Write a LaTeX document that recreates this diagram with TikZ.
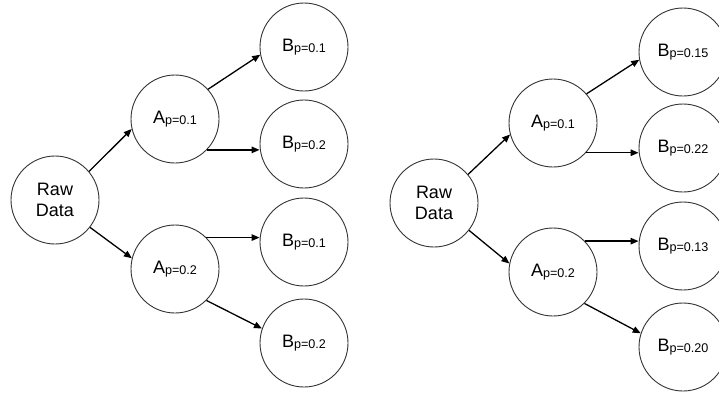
\documentclass[tikz,border=0pt]{standalone}
\usepackage{fontspec}
\setmainfont{Liberation Sans}
\usetikzlibrary{arrows.meta}
\newcommand{\lbl}[2]{#1\raisebox{-1.5pt}{\fontsize{12.6}{14}\selectfont #2}}
\begin{document}
\begin{tikzpicture}[x=1pt,y=-1pt,
  stage/.style={circle,draw=black!80,line width=0.9pt,minimum size=88pt,inner sep=0pt,
    font=\fontsize{18}{21.6}\selectfont,align=center},
  flow/.style={line width=1.3pt,-{Triangle[length=8pt,width=6.5pt]}}]
\useasboundingbox (0,0) rectangle (719,394);
% left tree
\node[stage] (raw) at (55,200) {Raw\\Data};
\node[stage] (a1) at (175,119) {\lbl{A}{p=0.1}};
\node[stage] (a2) at (175,269) {\lbl{A}{p=0.2}};
\node[stage] (b1) at (304,47) {\lbl{B}{p=0.1}};
\node[stage] (b2) at (304,144) {\lbl{B}{p=0.2}};
\node[stage] (b3) at (304,242) {\lbl{B}{p=0.1}};
\node[stage] (b4) at (304,343) {\lbl{B}{p=0.2}};
\draw[flow] (raw.40.5) -- (a1.193.7);
\draw[flow] (raw.-38.5) -- (a2.166.5);
\draw[flow] (a1.42) -- (b1.190);
\draw[flow] (a1.-44) -- (a1.-44 -| b2.west);
\draw[flow] (a2.45) -- (a2.45 -| b3.west);
\draw[flow] (a2.-45) -- (b4.161);
% right tree
\node[stage] (rraw) at (434,203) {Raw\\Data};
\node[stage] (ra1) at (553,123) {\lbl{A}{p=0.1}};
\node[stage] (ra2) at (553,272) {\lbl{A}{p=0.2}};
\node[stage] (rb1) at (683,52) {\lbl{B}{p=0.15}};
\node[stage] (rb2) at (683,148) {\lbl{B}{p=0.22}};
\node[stage] (rb3) at (683,246) {\lbl{B}{p=0.13}};
\node[stage] (rb4) at (683,347) {\lbl{B}{p=0.20}};
\draw[flow] (rraw.40.5) -- (ra1.195);
\draw[flow] (rraw.-38.5) -- (ra2.169);
\draw[flow] (ra1.41) -- (rb1.190);
\draw[flow] (ra1.-42) -- (ra1.-42 -| rb2.west);
\draw[flow] (ra2.44) -- (ra2.44 -| rb3.west);
\draw[flow] (ra2.-45) -- (rb4.162);
\end{tikzpicture}
\end{document}
